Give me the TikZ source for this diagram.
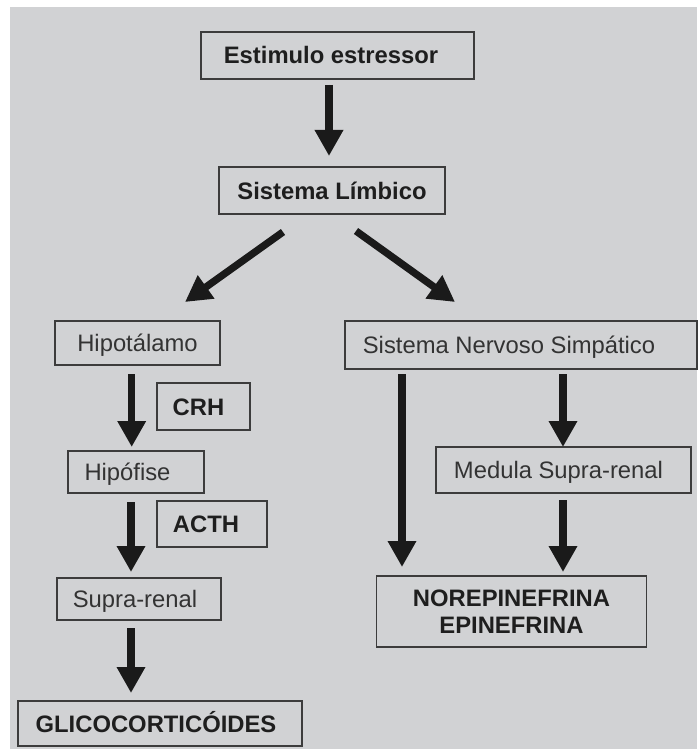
\documentclass[tikz,border=0pt]{standalone}
\usepackage{fontspec}
\setmainfont{Liberation Sans}
\usetikzlibrary{arrows.meta,calc}
\definecolor{bggray}{HTML}{D1D2D4}
\definecolor{boxline}{HTML}{3C3C3C}
\definecolor{txtdark}{HTML}{1E1E1E}
\definecolor{txtreg}{HTML}{333333}
\definecolor{arrowcol}{HTML}{1A1A1A}
\begin{document}
\begin{tikzpicture}[x=1pt,y=-1pt,
  box/.style={draw=boxline,line width=1.5pt,inner sep=0pt,outer sep=0pt,
    font=\fontsize{23.8}{27.5}\selectfont,align=center},
  oneline/.style={text height=17pt,text depth=0pt},
  boldtxt/.style={text=txtdark,font=\fontsize{23.8}{27.5}\selectfont\bfseries},
  regtxt/.style={text=txtreg},
  arr/.style={draw=arrowcol,line width=7.3pt,-{Triangle[width=27pt,length=26pt]},fill=arrowcol}
]
\useasboundingbox (0,0) rectangle (697,749);
\fill[white] (0,0) rectangle (697,749);
\fill[bggray] (10,7) rectangle (697,749);

\node[box,oneline,boldtxt,minimum width=273pt,minimum height=47pt] (est) at (337.5,55.5) {Estimulo estressor\hspace*{13pt}};
\node[box,oneline,boldtxt,minimum width=226pt,minimum height=47pt] (lim) at (332,190.5) {Sistema Límbico};
\node[box,oneline,regtxt,minimum width=165pt,minimum height=44pt] (hipo) at (137.5,343) {Hipotálamo};
\node[box,oneline,boldtxt,minimum width=93pt,minimum height=47pt] (crh) at (203.5,406.5) {CRH\hspace*{10pt}};
\node[box,oneline,regtxt,minimum width=136pt,minimum height=42pt] (hipof) at (136,472) {Hipófise\hspace*{17pt}};
\node[box,oneline,boldtxt,minimum width=110pt,minimum height=46pt] (acth) at (212,524) {ACTH\hspace*{12pt}};
\node[box,oneline,regtxt,minimum width=164pt,minimum height=42pt] (supra) at (139,599) {Supra-renal\hspace*{8pt}};
\node[box,oneline,boldtxt,minimum width=284pt,minimum height=45pt] (glico) at (160,723.5) {GLICOCORTICÓIDES\hspace*{8pt}};
\node[box,oneline,regtxt,minimum width=352pt,minimum height=48pt] (sns) at (521,345) {Sistema Nervoso Simpático\hspace*{24pt}};
\node[box,oneline,regtxt,minimum width=255pt,minimum height=46pt] (med) at (563.5,470) {Medula Supra-renal\hspace*{10pt}};
\node[box,boldtxt,minimum width=270pt,minimum height=71pt] (norep) at (511.5,611.5) {NOREPINEFRINA\\EPINEFRINA};

\draw[arr] ($(est.south)+(-8.5,6)$) -- ($(lim.north)+(-3,-11)$);
\draw[arr] ($(lim.south)+(-49,18)$) -- ($(hipo.north)+(47.5,-19)$);
\draw[arr] ($(lim.south)+(24,17)$) -- ($(sns.north)+(-66,-19)$);
\draw[arr] ($(hipo.south)+(-5.8,9)$) -- ($(hipof.north)+(-4.3,-4)$);
\draw[arr] ($(hipof.south)+(-5,9)$) -- ($(supra.north)+(-8,-6)$);
\draw[arr] ($(supra.south)+(-8,8)$) -- ($(glico.north)+(-29,-8)$);
\draw[arr] ($(sns.south)+(-119,5)$) -- ($(norep.north)+(-109.5,-9)$);
\draw[arr] ($(sns.south)+(42,5)$) -- ($(med.north)+(-0.5,0)$);
\draw[arr] ($(med.south)+(-0.5,7)$) -- ($(norep.north)+(51.5,-4)$);
\end{tikzpicture}
\end{document}
